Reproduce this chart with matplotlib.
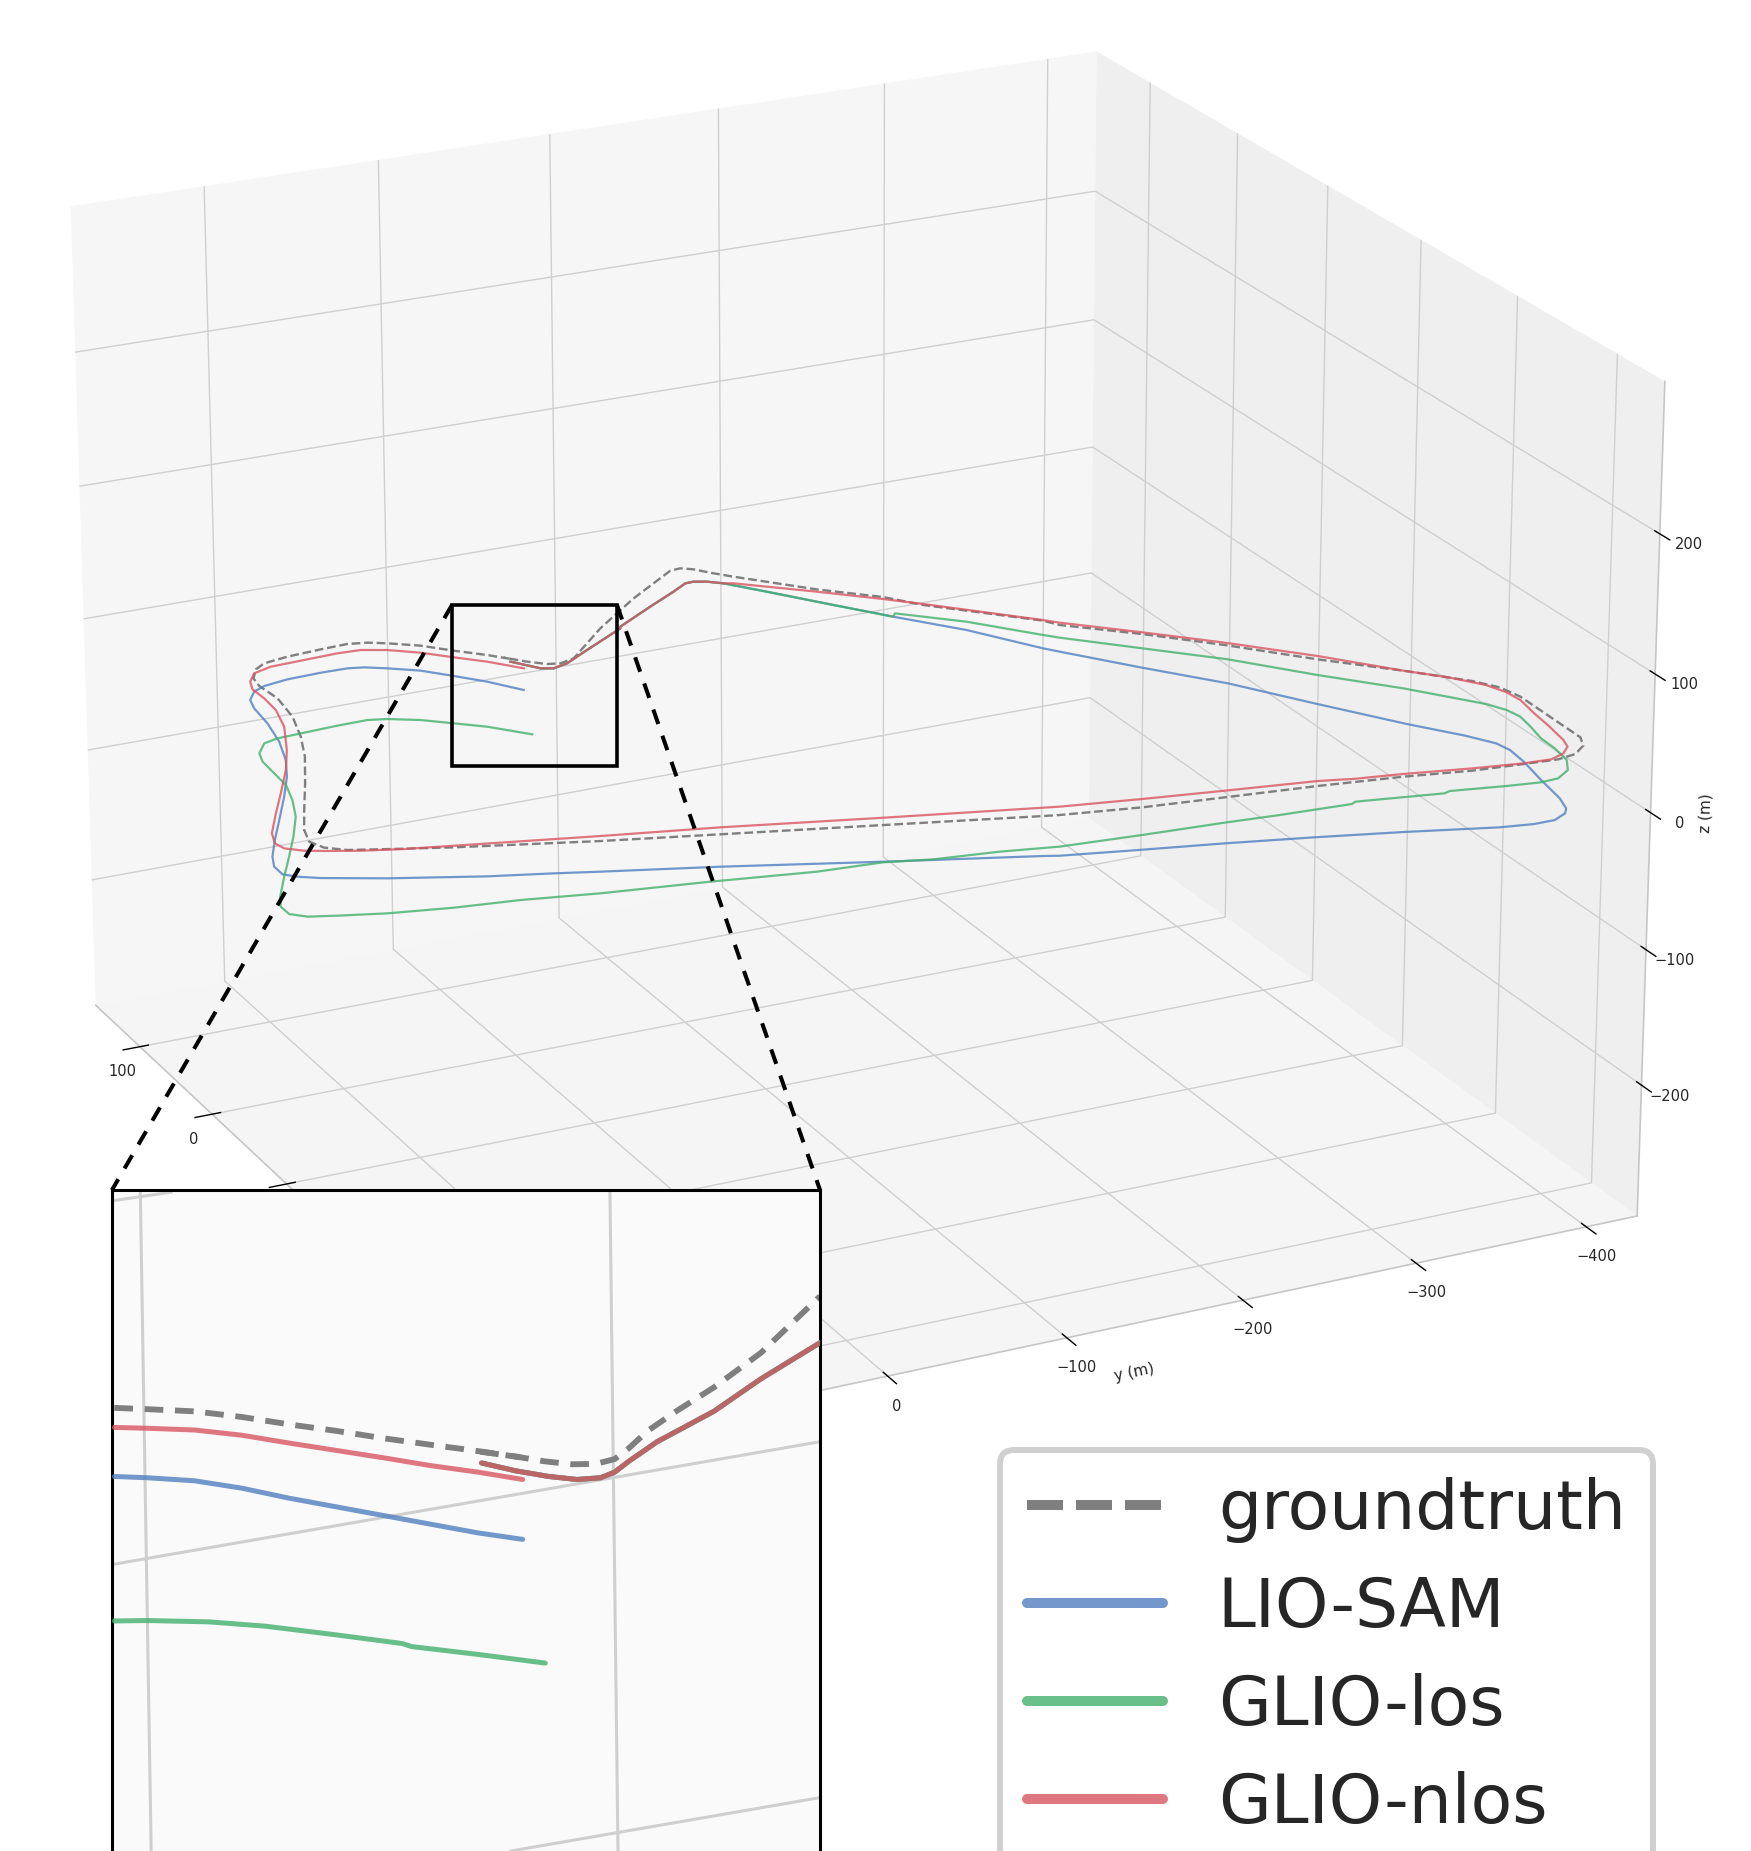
import matplotlib
matplotlib.use('Agg')
import matplotlib.pyplot as plt
from matplotlib.lines import Line2D
from matplotlib.patches import Rectangle

# trajectories (m)
gt_x = [4.6, 14.8, 28.4, 43.0, 54.0, 59.6, 62.5, 61.5, 59.4, 55.9, 49.7, 38.2, 26.7, 6.1, -21.5, -49.4, -76.1, -110.0, -141.5, -166.2,
        -181.7, -192.3, -200.4, -211.4, -220.9, -246.0, -264.7, -290.1, -315.2, -317.7, -327.1, -333.8, -341.2, -349.5, -357.9, -361.7, -363.9, -361.4, -353.2, -342.4,
        -315.3, -278.5, -262.1, -247.7, -218.6, -184.0, -143.6, -109.8, -78.4, -68.7, -19.3, 1.0, 29.1, 66.5, 77.6, 86.3, 90.9, 90.0, 81.8, 60.5,
        44.0, 27.6, 10.5, -6.4, -10.0, -7.7, 0.1, 10.9]
gt_y = [-1.5, 6.8, 19.9, 32.6, 46.9, 56.0, 66.2, 81.9, 101.9, 116.6, 124.0, 130.2, 131.8, 130.2, 133.5, 140.8, 149.9, 164.3, 178.3, 188.9,
        192.8, 189.2, 180.0, 154.0, 130.9, 61.7, 4.1, -74.8, -152.4, -160.5, -202.6, -246.5, -296.1, -341.5, -377.0, -405.2, -424.2, -435.8, -445.3, -449.9,
        -450.4, -451.1, -448.1, -439.8, -414.9, -382.6, -348.8, -317.4, -284.4, -279.5, -233.0, -219.2, -193.3, -161.7, -153.1, -147.3, -141.5, -135.2, -125.3, -99.6,
        -82.1, -64.8, -49.1, -33.6, -24.3, -17.6, -9.6, -1.1]
gt_z = [2, 2, 2, 2, 2, 2, 2, 2, 2, 2, 2, 2, 2, 2, 2, 2, 2, 2, 1, 1,
        1, 1, 1, 1, 1, 1, 1, 1, 1, 1, 1, 1, 1, 1, 1, 1, 1, 1, 1, 1,
        1, 1, 1, 1, 1, 1, 1, 1, 1, 1, 1, 1, 0, 0, 0, 0, 0, 0, 0, 0,
        0, 0, 0, 0, 0, 0, 0, 0]

lio_x = [7.5, 27.2, 40.8, 55.9, 66.9, 71.9, 74.5, 74.9, 72.0, 68.5, 61.5, 51.3, 39.2, 14.5, -12.2, -37.5, -60.9, -85.7, -113.9, -139.5,
         -159.5, -172.1, -185.0, -191.2, -198.0, -214.9, -234.8, -247.7, -256.1, -276.9, -309.1, -338.1, -341.5, -354.1, -365.6, -378.6, -394.1, -410.3, -414.2, -415.8,
         -410.3, -404.6, -393.0, -366.9, -340.9, -325.3, -314.0, -299.1, -271.2, -225.5, -180.2, -139.9, -99.6, -93.1, -50.7, -15.5, -8.8, 12.8, 46.9, 66.9,
         73.2, 76.4, 74.3, 65.6, 48.8, 28.7, 26.4, 3.4, -9.7, -13.3, -11.9, 4.0]
lio_y = [-10.8, 1.5, 14.6, 27.2, 41.7, 52.9, 61.4, 76.5, 96.9, 111.7, 120.4, 127.0, 129.8, 132.7, 137.4, 144.5, 153.8, 165.9, 180.6, 193.9,
         203.7, 208.1, 209.0, 203.5, 193.8, 164.8, 119.0, 88.3, 66.5, 10.0, -65.4, -140.6, -148.3, -186.6, -229.5, -273.7, -316.7, -363.4, -381.2, -392.3,
         -401.6, -405.5, -408.5, -412.6, -417.4, -418.2, -416.5, -406.6, -387.6, -359.8, -331.3, -301.6, -273.5, -267.0, -243.0, -217.0, -210.4, -195.3, -172.1, -156.0,
         -149.0, -142.6, -136.7, -125.6, -103.9, -77.0, -75.9, -45.8, -28.2, -18.9, -11.9, -1.8]
lio_z = [-25, -25, -24, -24, -24, -23, -23, -23, -22, -22, -21, -21, -21, -20, -20, -20, -19, -19, -19, -18,
         -18, -18, -17, -17, -17, -16, -16, -15, -15, -15, -14, -14, -14, -13, -13, -13, -12, -12, -12, -11,
         -11, -11, -10, -10, -10, -9, -9, -8, -8, -8, -7, -7, -7, -6, -6, -6, -5, -5, -5, -4,
         -4, -4, -3, -3, -2, -2, -2, -1, -1, -1, 0, 0]

los_x = [-0.4, 18.5, 30.8, 41.3, 48.7, 50.3, 49.9, 46.6, 43.6, 38.4, 26.4, 13.0, -6.6, -26.1, -46.9, -70.5, -96.8, -120.7, -145.9, -171.1,
         -185.0, -195.7, -204.6, -211.8, -221.8, -229.9, -237.3, -248.8, -261.2, -273.2, -278.6, -288.0, -293.8, -303.0, -309.4, -315.0, -318.4, -323.3, -322.9, -334.9,
         -333.3, -341.9, -347.0, -347.8, -340.0, -329.2, -313.9, -298.5, -283.3, -270.2, -260.4, -248.0, -210.7, -175.2, -135.6, -100.9, -69.0, -63.3, -29.1, -0.8,
         -6.7, 21.7, 55.8, 75.9, 80.4, 81.8, 81.5, 71.0, 54.2, 32.3, 30.0, 6.9, -8.0, -13.3, -10.1, 4.0]
los_y = [-11.8, 5.7, 19.5, 34.1, 50.0, 60.8, 78.2, 98.7, 115.2, 124.9, 132.8, 136.6, 138.3, 140.0, 145.2, 153.4, 165.9, 178.5, 191.9, 204.8,
         210.4, 210.4, 204.2, 191.0, 168.2, 135.4, 102.1, 63.3, 8.1, -45.7, -80.5, -104.1, -138.9, -168.3, -212.3, -256.9, -287.0, -326.5, -328.7, -374.4,
         -378.4, -407.0, -424.4, -434.1, -444.4, -450.0, -451.7, -452.4, -454.9, -456.3, -453.7, -448.3, -419.7, -387.7, -355.4, -322.3, -289.4, -282.4, -254.0, -225.3,
         -221.4, -199.6, -176.5, -160.2, -152.4, -145.2, -140.1, -128.2, -106.5, -78.6, -77.6, -47.5, -29.0, -18.9, -12.7, -1.8]
los_z = [-55, -54, -54, -53, -52, -51, -51, -50, -49, -48, -48, -47, -46, -45, -45, -44, -43, -43, -42, -41,
         -40, -40, -39, -38, -37, -37, -36, -35, -34, -34, -33, -32, -32, -31, -30, -29, -29, -28, -27, -26,
         -26, -25, -24, -23, -23, -22, -21, -21, -20, -19, -18, -18, -17, -16, -15, -15, -14, -13, -12, -12,
         -11, -10, -10, -9, -8, -7, -7, -6, -5, -4, -4, -3, -2, -1, -1, 0]

nlos_x = [-16.9, 0.5, 14.1, 28.1, 39.5, 45.8, 46.8, 45.6, 46.2, 41.2, 30.9, 20.2, 5.6, -12.5, -36.2, -66.9, -92.2, -120.6, -144.4, -168.2,
          -181.2, -189.4, -195.0, -200.5, -207.6, -215.2, -243.3, -259.6, -284.6, -308.5, -311.0, -320.4, -329.1, -338.5, -342.7, -342.3, -347.9, -356.8, -362.5, -364.0,
          -359.5, -352.4, -343.4, -321.5, -304.0, -284.3, -271.6, -257.6, -239.1, -220.3, -181.4, -140.6, -107.6, -75.3, -67.9, -18.0, -1.7, 24.2, 55.5, 57.9,
          64.2, 67.4, 67.0, 58.4, 45.2, 25.1, 22.8, 1.6, -11.5, -15.0, -11.9, 4.0]
nlos_y = [-0.1, 13.1, 26.2, 39.1, 53.2, 65.8, 78.7, 98.2, 116.9, 128.5, 135.1, 138.3, 137.9, 139.0, 144.4, 156.0, 167.3, 182.2, 195.0, 207.3,
          211.2, 209.6, 201.2, 190.9, 175.9, 155.6, 60.5, 1.7, -77.5, -155.8, -164.0, -206.2, -249.0, -297.5, -311.2, -315.4, -342.4, -377.6, -404.7, -420.1,
          -429.8, -436.4, -439.2, -442.6, -444.6, -447.7, -446.8, -442.4, -430.2, -414.0, -384.0, -350.5, -318.6, -286.0, -279.9, -233.7, -217.9, -190.9, -156.5, -151.7,
          -144.8, -138.3, -133.3, -122.2, -102.3, -75.3, -74.3, -45.0, -27.4, -18.1, -11.9, -1.8]
nlos_z = [5, 5, 5, 5, 5, 5, 5, 5, 4, 4, 4, 4, 4, 4, 4, 4, 4, 4, 4, 4,
          4, 4, 3, 3, 3, 3, 3, 3, 3, 3, 3, 3, 3, 3, 3, 2, 2, 2, 2, 2,
          2, 2, 2, 2, 2, 2, 2, 2, 2, 2, 2, 1, 1, 1, 1, 1, 1, 1, 1, 1,
          1, 1, 1, 1, 0, 0, 0, 0, 0, 0, 0, 0]

x_ticks = [100, 0, -100, -200, -300, -400]
y_ticks = [100, 0, -100, -200, -300, -400]
z_ticks = [-200, -100, 0, 100, 200]

# zoomed detail, in the inset's own units
in_gt1_x = [30, 100, 200, 300, 400, 500, 600, 700, 810, 890]
in_gt1_y = [547, 550, 555, 568, 585, 600, 617, 632, 648, 661]
in_gt2_x = [805, 880, 940, 1000, 1050, 1090, 1120, 1160, 1220, 1300, 1400, 1525]
in_gt2_y = [648, 659, 670, 677, 676, 665, 640, 600, 555, 500, 420, 290]
in_nlos_x = [30, 100, 200, 300, 400, 500, 600, 700, 800, 895]
in_nlos_y = [592, 594, 598, 610, 628, 645, 662, 680, 695, 712]
in_lio_x = [30, 100, 200, 300, 400, 500, 600, 700, 800, 895]
in_lio_y = [705, 708, 715, 732, 755, 775, 795, 815, 835, 850]
in_los_x = [30, 100, 230, 350, 500, 640, 660, 800, 943]
in_los_y = [1038, 1037, 1040, 1050, 1070, 1090, 1097, 1115, 1135]
in_shared_x = [808, 880, 950, 1010, 1060, 1090, 1120, 1180, 1300, 1400, 1525]
in_shared_y = [674, 692, 705, 712, 708, 695, 670, 625, 555, 480, 397]
in_grid_x = [[85, 108], [1080, 1097], [25, 1525], [870, 1525], [25, 150]]
in_grid_y = [[50, 1568], [50, 1568], [908, 625], [1568, 1445], [70, 50]]

W, H = 1751, 1851
GRAY = '#7f7f7f'
BLUE = '#5080c0'
GREEN = '#44b06c'
RED = '#d85560'
LINE = '#cfcfcf'
TXT = '#262626'

plt.rcParams['xtick.major.width'] = 1.0
plt.rcParams['ytick.major.width'] = 1.0
plt.rcParams['text.color'] = TXT
plt.rcParams['axes.labelcolor'] = TXT
plt.rcParams['xtick.labelcolor'] = TXT
plt.rcParams['ytick.labelcolor'] = TXT

fig = plt.figure(figsize=(W / 100, H / 100), dpi=100)
ax = fig.add_axes([-0.03443, 0.12892, 1.00890, 0.95292], projection='3d')
ax.computed_zorder = False
ax.view_init(21.43, 153.67)
ax.set_box_aspect((1, 1, 0.75), zoom=1.03)

ax.plot(gt_x, gt_y, gt_z, color=GRAY, lw=1.7, ls='--', zorder=2)
ax.plot(lio_x, lio_y, lio_z, color=BLUE, lw=1.6, alpha=0.8, zorder=3)
ax.plot(los_x, los_y, los_z, color=GREEN, lw=1.6, alpha=0.8, zorder=4)
ax.plot(nlos_x, nlos_y, nlos_z, color=RED, lw=1.6, alpha=0.8, zorder=5)

ax.set_xlim(-446.36, 163.01)
ax.set_ylim(-430.21, 175.50)
ax.set_zlim(-297.63, 307.50)
ax.set_xticks(x_ticks)
ax.set_yticks(y_ticks)
ax.set_zticks(z_ticks)
ax.tick_params(labelsize=10.5)
ax.set_xlabel('x (m)', fontsize=11)
ax.set_ylabel('y (m)', fontsize=11, labelpad=2)
ax.set_zlabel('z (m)', fontsize=11, labelpad=1)

ax.xaxis.set_pane_color('#f6f6f6')
ax.yaxis.set_pane_color('#efefef')
ax.zaxis.set_pane_color('#f5f5f5')
for axis in (ax.xaxis, ax.yaxis, ax.zaxis):
    axis._axinfo['grid'].update(color=LINE, linewidth=1.0)
    axis._axinfo['axisline'].update(color='#c6c6c6', linewidth=1.2)
    axis.line.set_color('#c6c6c6')
    axis.line.set_linewidth(1.2)
    axis.pane.set_edgecolor('none')

# inset, runs off the bottom of the page
ins = fig.add_axes([112 / W, 0, (820 - 112) / W, (H - 1190) / H], zorder=5)
ins.set_xlim(25, 1525)
ins.set_ylim(1568, 45)
ins.set_facecolor('#fafafa')
ins.set_xticks([])
ins.set_yticks([])
for gx, gy in zip(in_grid_x, in_grid_y):
    ins.plot(gx, gy, color=LINE, lw=2.2, zorder=1)
ins.plot(in_gt1_x, in_gt1_y, color=GRAY, lw=4.2, ls=(0, (3.2, 2.0)), zorder=2)
ins.plot(in_gt2_x, in_gt2_y, color=GRAY, lw=4.2, ls=(0, (3.2, 2.0)), zorder=2)
ins.plot(in_lio_x, in_lio_y, color=BLUE, lw=3.6, alpha=0.8, solid_capstyle='round', zorder=3)
ins.plot(in_los_x, in_los_y, color=GREEN, lw=3.6, alpha=0.8, solid_capstyle='round', zorder=3)
ins.plot(in_nlos_x, in_nlos_y, color=RED, lw=3.6, alpha=0.8, solid_capstyle='round', zorder=3)
for c in (BLUE, GREEN, RED):
    ins.plot(in_shared_x, in_shared_y, color=c, lw=3.6, alpha=0.8, solid_capstyle='round', zorder=4)
for s in ('top', 'left', 'right'):
    ins.spines[s].set_linewidth(2.2)
    ins.spines[s].set_color('black')
ins.spines['bottom'].set_visible(False)

# zoom box and connectors
box = Rectangle((452 / W, 1 - 766 / H), 165 / W, 161 / H, transform=fig.transFigure,
                fill=False, edgecolor='black', lw=2.6, zorder=3)
fig.add_artist(box)
for x0, x1 in ((452, 112), (617, 820)):
    fig.add_artist(Line2D([x0 / W, x1 / W], [1 - 605 / H, 1 - 1190 / H], transform=fig.transFigure,
                          color='black', lw=2.9, ls=(0, (3.8, 3.07)), zorder=3))

handles = [
    Line2D([], [], color=GRAY, lw=7.2, ls=(0, (3.6, 1.3)), dash_capstyle='butt'),
    Line2D([], [], color=BLUE, lw=7.2, alpha=0.8, solid_capstyle='round'),
    Line2D([], [], color=GREEN, lw=7.2, alpha=0.8, solid_capstyle='round'),
    Line2D([], [], color=RED, lw=7.2, alpha=0.8, solid_capstyle='round'),
]
leg = fig.legend(handles, ['groundtruth', 'LIO-SAM', 'GLIO-los', 'GLIO-nlos'],
                 loc='upper left', bbox_to_anchor=(1000 / W, 1 - 1450 / H), borderaxespad=0,
                 fontsize=49, frameon=True, fancybox=True, framealpha=1, facecolor='white',
                 edgecolor='#d0d0d0', handlelength=2.0, handletextpad=0.8,
                 labelspacing=0.47, borderpad=0.40)
leg.get_frame().set_linewidth(4.3)
leg.set_zorder(6)

fig.savefig('out.png', dpi=100)
